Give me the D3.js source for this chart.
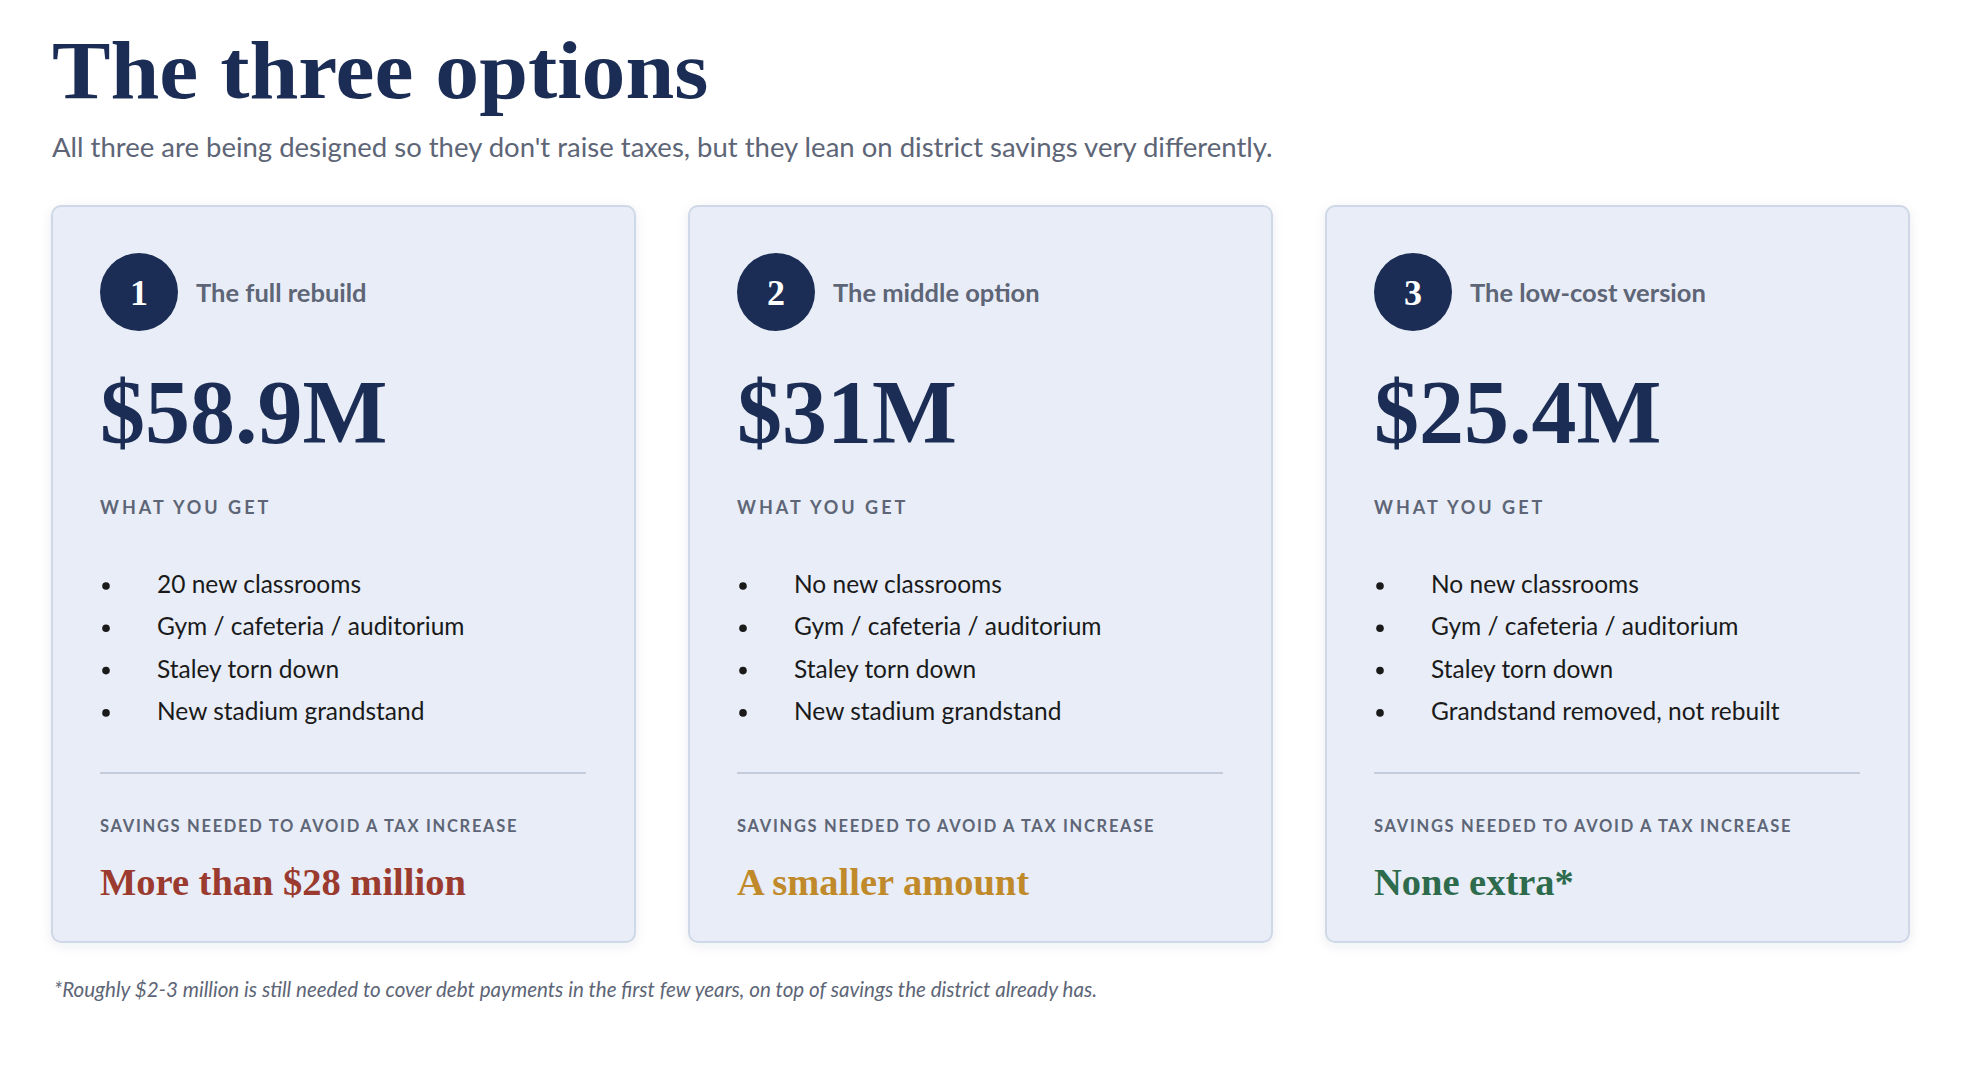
<!DOCTYPE html>
<html>
<head>
<meta charset="utf-8">
<script src="https://cdn.jsdelivr.net/npm/d3@7"></script>
<style>
    html, body { margin: 0; padding: 0; background: #fff; }
    svg { display: block; }
    .serif { font-family: "Liberation Serif", "DejaVu Serif", serif; font-weight: bold; }
    .sans { font-family: Lato, "Open Sans", sans-serif; }
</style>
</head>
<body>
<div id="chart"></div>
<script>
// data
const optionNumbers = [1, 2, 3];
const optionNames = ["The full rebuild", "The middle option", "The low-cost version"];
const costs = [58.9, 31, 25.4]; // $ millions
const features = [
    ["20 new classrooms", "Gym / cafeteria / auditorium", "Staley torn down", "New stadium grandstand"],
    ["No new classrooms", "Gym / cafeteria / auditorium", "Staley torn down", "New stadium grandstand"],
    ["No new classrooms", "Gym / cafeteria / auditorium", "Staley torn down", "Grandstand removed, not rebuilt"]
];
const savingsNeeded = ["More than $28 million", "A smaller amount", "None extra*"];
const savingsLevel = ["high", "medium", "none"];

const titleText = "The three options";
const subtitleText = "All three are being designed so they don't raise taxes, but they lean on district savings very differently.";
const footnoteText = "*Roughly $2-3 million is still needed to cover debt payments in the first few years, on top of savings the district already has.";

document.addEventListener('DOMContentLoaded', () => {
    const W = 1967, H = 1066;
    const navy = "#1b2d55";
    const gray = "#5d6576";
    var levelColor = d3.scaleOrdinal()
        .domain(["high", "medium", "none"])
        .range(["#9b3a2f", "#c08a2b", "#2e6b4c"]);

    var svg = d3.select("#chart").append("svg")
        .attr("width", W)
        .attr("height", H);

    var defs = svg.append("defs");
    var shadow = defs.append("filter")
        .attr("id", "shadow")
        .attr("x", "-10%").attr("y", "-10%")
        .attr("width", "120%").attr("height", "120%");
    shadow.append("feDropShadow")
        .attr("dx", 0).attr("dy", 3)
        .attr("stdDeviation", 6)
        .attr("flood-color", "#1b2d55")
        .attr("flood-opacity", 0.08);

    // serif fallback is narrower than the original face, so widen it a touch
    function placed(x, y, sx) {
        return `translate(${x},${y}) scale(${sx},1)`;
    }

    // header
    svg.append("text")
        .attr("class", "serif")
        .attr("transform", placed(52, 98, 1.07))
        .style("font-size", "82px")
        .style("fill", navy)
        .text(titleText);

    svg.append("text")
        .attr("class", "sans")
        .attr("x", 52).attr("y", 157)
        .style("font-size", "27.5px")
        .style("fill", gray)
        .text(subtitleText);

    // cards laid out with a band scale
    const cardTop = 206, cardHeight = 736;
    var x = d3.scaleBand()
        .domain(d3.range(optionNumbers.length))
        .range([52, 1909])
        .paddingInner(54 / 637)
        .paddingOuter(0);
    const cw = x.bandwidth();

    var bulletY = d3.scaleLinear().domain([0, 1]).range([593, 635.3]);

    var cards = svg.selectAll(".card")
        .data(optionNumbers)
        .enter().append("g")
        .attr("class", "card")
        .attr("transform", function(d, i) { return `translate(${x(i)},${cardTop})`; });

    cards.append("rect")
        .attr("x", 0).attr("y", 0)
        .attr("width", cw)
        .attr("height", cardHeight)
        .attr("rx", 9)
        .attr("filter", "url(#shadow)")
        .style("fill", "#e8edf7")
        .style("stroke", "#cfd8e6")
        .style("stroke-width", 2);

    cards.append("circle")
        .attr("cx", 87).attr("cy", 86)
        .attr("r", 39)
        .style("fill", navy);

    cards.append("text")
        .attr("class", "serif")
        .attr("x", 87).attr("y", 99)
        .attr("text-anchor", "middle")
        .style("font-size", "36px")
        .style("fill", "#fff")
        .text(function(d) { return d; });

    cards.append("text")
        .attr("class", "sans")
        .attr("x", 144).attr("y", 96)
        .style("font-size", "25.5px")
        .style("font-weight", "bold")
        .style("fill", gray)
        .text(function(d, i) { return optionNames[i]; });

    cards.append("text")
        .attr("class", "serif")
        .attr("transform", placed(48, 237, 1.0))
        .style("font-size", "90px")
        .style("fill", navy)
        .text(function(d, i) { return `$${costs[i]}M`; });

    cards.append("text")
        .attr("class", "sans")
        .attr("x", 48).attr("y", 308)
        .style("font-size", "18px")
        .style("font-weight", "bold")
        .style("letter-spacing", "3px")
        .style("fill", gray)
        .text("WHAT YOU GET");

    var items = cards.selectAll(".item")
        .data(function(d, i) { return features[i]; })
        .enter().append("g")
        .attr("class", "item")
        .attr("transform", function(d, j) { return `translate(0,${bulletY(j) - cardTop})`; });

    items.append("circle")
        .attr("cx", 54).attr("cy", -7)
        .attr("r", 3.8)
        .style("fill", "#1a1a1a");

    items.append("text")
        .attr("class", "sans")
        .attr("x", 105).attr("y", 0)
        .style("font-size", "24.5px")
        .style("fill", "#1a1a1a")
        .text(function(d) { return d; });

    cards.append("line")
        .attr("x1", 48).attr("x2", cw - 49)
        .attr("y1", 567).attr("y2", 567)
        .style("stroke", "#c3ccda")
        .style("stroke-width", 2);

    cards.append("text")
        .attr("class", "sans")
        .attr("x", 48).attr("y", 626)
        .style("font-size", "16.5px")
        .style("font-weight", "bold")
        .style("letter-spacing", "1.7px")
        .style("fill", gray)
        .text("SAVINGS NEEDED TO AVOID A TAX INCREASE");

    cards.append("text")
        .attr("class", "serif")
        .attr("transform", placed(48, 689, 1.04))
        .style("font-size", "37px")
        .style("fill", function(d, i) { return levelColor(savingsLevel[i]); })
        .text(function(d, i) { return savingsNeeded[i]; });

    // footnote
    svg.append("text")
        .attr("class", "sans")
        .attr("x", 54).attr("y", 997)
        .style("font-size", "20.6px")
        .style("font-style", "italic")
        .style("fill", gray)
        .text(footnoteText);
});
</script>
</body>
</html>
